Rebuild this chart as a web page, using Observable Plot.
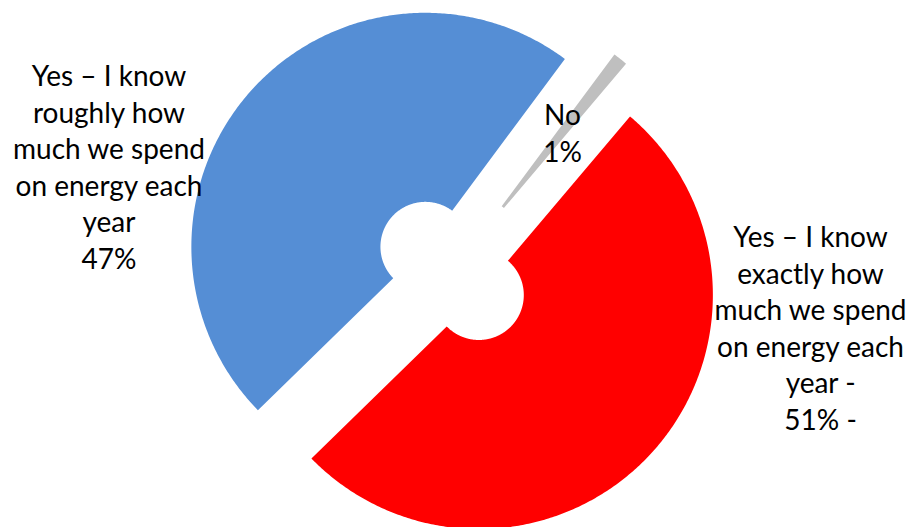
<!DOCTYPE html>
<html>
<head>
<meta charset="utf-8">
<script src="https://cdn.jsdelivr.net/npm/d3@7"></script>
<script src="https://cdn.jsdelivr.net/npm/@observablehq/plot@0.6"></script>
<style>
  html, body { margin: 0; padding: 0; background: #fff; }
  #chart svg { display: block; }
</style>
</head>
<body>
<div id="chart"></div>
<script>
// ---- data ----
const categories = [
  "No",
  "Yes – I know exactly how much we spend on energy each year",
  "Yes – I know roughly how much we spend on energy each year"
];
const values = [1, 51, 47];
const colors = ["#BFBFBF", "#FF0000", "#558ED5"];
const labelLines = [
  ["No", "1%"],
  ["Yes – I know", "exactly how", "much we spend", "on energy each", "year -", "51% -"],
  ["Yes – I know", "roughly how", "much we spend", "on energy each", "year", "47%"]
];

// ---- layout (units = outer radius, origin = pie centre) ----
const W = 911, H = 527;
const PX = 234;                       // pixels per radius
const CX = 452, CY = 270;             // pie centre in pixels
const startDeg = 36.6;
const innerR = 0.192;
const explode = 0.154;
const labelAnchor = [[0.470, 0.6197], [1.530, 0.0983], [-1.468, 0.7876]];
const lineStep = 36.5 / PX;
const tailShift = [0, 0.043, 0];      // red label's last two lines sit slightly right

// ---- geometry from data ----
const arcs = d3.pie().sort(null)
  .startAngle(startDeg * Math.PI / 180)
  .endAngle(startDeg * Math.PI / 180 + 2 * Math.PI)(values);

const pts = [];
arcs.forEach((a, k) => {
  const mid = (a.startAngle + a.endAngle) / 2;
  const ox = explode * Math.sin(mid), oy = explode * Math.cos(mid);
  const n = Math.max(6, Math.ceil((a.endAngle - a.startAngle) / (Math.PI / 360)));
  for (let i = 0; i <= n; i++) {
    const t = a.startAngle + (a.endAngle - a.startAngle) * i / n;
    pts.push({cat: categories[k], x: ox + Math.sin(t), y: oy + Math.cos(t)});
  }
  for (let i = n; i >= 0; i--) {
    const t = a.startAngle + (a.endAngle - a.startAngle) * i / n;
    pts.push({cat: categories[k], x: ox + innerR * Math.sin(t), y: oy + innerR * Math.cos(t)});
  }
});

const labels = [];
labelLines.forEach((lines, k) => {
  lines.forEach((txt, i) => {
    labels.push({
      text: txt,
      x: labelAnchor[k][0] + (i >= 4 ? tailShift[k] : 0),
      y: labelAnchor[k][1] - i * lineStep
    });
  });
});

const chart = Plot.plot({
  width: W, height: H,
  margin: 0,
  x: {domain: [-CX / PX, (W - CX) / PX], axis: null},
  y: {domain: [-(H - CY) / PX, CY / PX], axis: null},
  color: {domain: categories, range: colors},
  style: {background: "white"},
  marks: [
    Plot.line(pts, {x: "x", y: "y", z: "cat", fill: "cat", stroke: "none", curve: "linear-closed"}),
    Plot.text(labels, {
      x: "x", y: "y", text: "text",
      lineAnchor: "bottom", textAnchor: "middle",
      fontSize: 28, fontFamily: "Lato", fill: "black"
    })
  ]
});
document.getElementById("chart").appendChild(chart);
</script>
</body>
</html>
